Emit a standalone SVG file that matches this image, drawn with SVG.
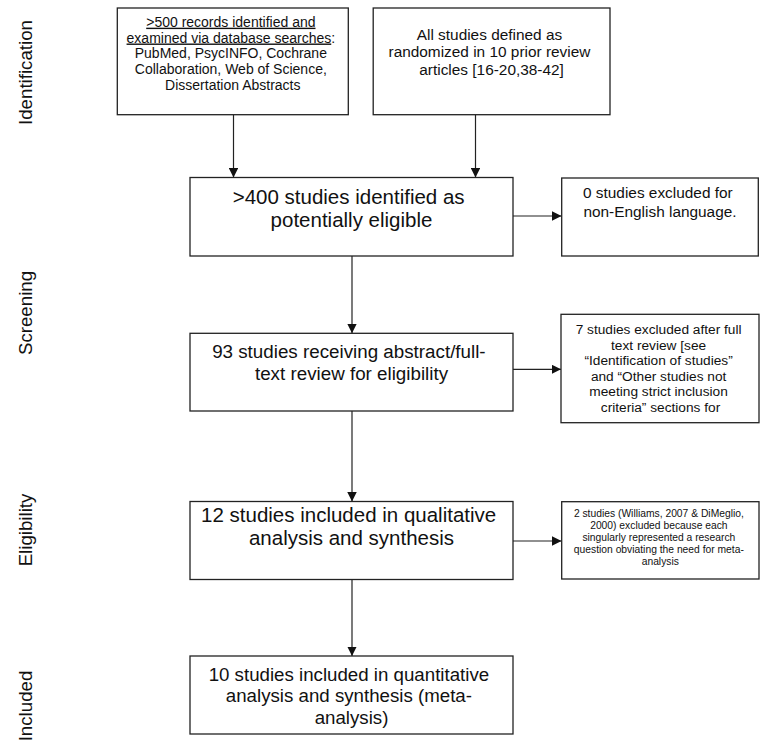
<svg xmlns="http://www.w3.org/2000/svg" width="760" height="747" viewBox="0 0 760 747">
<style>
.box{fill:#fff;stroke:#222;stroke-width:1.3}
.t{font-family:"Liberation Sans",Arial,sans-serif;fill:#111;text-anchor:middle}
.lab{font-family:"Liberation Sans",Arial,sans-serif;fill:#111;font-size:18.7px;text-anchor:middle}
.c{stroke:#222;stroke-width:1.2;fill:none}
.u{text-decoration:underline}
</style>
<defs>
<marker id="ah" viewBox="0 0 10 10" refX="10" refY="5" markerWidth="9.5" markerHeight="9.5" markerUnits="userSpaceOnUse" orient="auto">
<path d="M0,0 L10,5 L0,10 Z" fill="#111"/>
</marker>
</defs>
<rect width="760" height="747" fill="#fff"/>
<g id="phase-labels">
<text class="lab" transform="translate(32,72.5) rotate(-90)">Identification</text>
<text class="lab" transform="translate(32,313) rotate(-90)">Screening</text>
<text class="lab" transform="translate(32,530) rotate(-90)">Eligibility</text>
<text class="lab" transform="translate(32,706) rotate(-90)">Included</text>
</g>
<g id="connectors">
<line class="c" x1="233.5" y1="114.5" x2="233.5" y2="177.5" marker-end="url(#ah)"/>
<line class="c" x1="475.5" y1="114.5" x2="475.5" y2="177.5" marker-end="url(#ah)"/>
<line class="c" x1="513" y1="216" x2="561.5" y2="216" marker-end="url(#ah)"/>
<line class="c" x1="352" y1="256" x2="352" y2="333.3" marker-end="url(#ah)"/>
<line class="c" x1="512" y1="369.3" x2="561" y2="369.3" marker-end="url(#ah)"/>
<line class="c" x1="352" y1="411" x2="352" y2="501.5" marker-end="url(#ah)"/>
<line class="c" x1="513" y1="541" x2="561.5" y2="541" marker-end="url(#ah)"/>
<line class="c" x1="352" y1="579.5" x2="352" y2="656" marker-end="url(#ah)"/>
</g>
<g id="records">
<rect class="box" x="117.3" y="8" width="231" height="106.7"/>
<text class="t" font-size="14">
<tspan x="232.8" y="26.7" class="u">&gt;500 records identified and</tspan>
<tspan x="232.8" y="42.5"><tspan class="u">examined via database searches</tspan>:</tspan>
<tspan x="232.8" y="58.3">PubMed, PsycINFO, Cochrane</tspan>
<tspan x="232.8" y="74.1">Collaboration, Web of Science,</tspan>
<tspan x="232.8" y="89.9">Dissertation Abstracts</tspan>
</text>
</g>
<g id="prior-reviews">
<rect class="box" x="373.2" y="8" width="236.8" height="106.7"/>
<text class="t" font-size="15.4">
<tspan x="491.6" y="39.5">All studies defined as</tspan>
<tspan x="491.6" y="57.4">randomized in 10 prior review</tspan>
<tspan x="491.6" y="75.3">articles [16-20,38-42]</tspan>
</text>
</g>
<g id="potentially-eligible">
<rect class="box" x="190" y="177.5" width="323" height="78.5"/>
<text class="t" font-size="20.5">
<tspan x="351.5" y="203.8">&gt;400 studies identified as</tspan>
<tspan x="351.5" y="227.4">potentially eligible</tspan>
</text>
</g>
<g id="non-english">
<rect class="box" x="561.7" y="178" width="196.6" height="78"/>
<text class="t" font-size="15.4">
<tspan x="660" y="198.3">0 studies excluded for</tspan>
<tspan x="660" y="216.6">non-English language.</tspan>
</text>
</g>
<g id="abstract-review">
<rect class="box" x="190" y="333.3" width="323" height="77.7"/>
<text class="t" font-size="18.8">
<tspan x="351.5" y="358.3">93 studies receiving abstract/full-</tspan>
<tspan x="351.5" y="380.3">text review for eligibility</tspan>
</text>
</g>
<g id="excluded-full-text">
<rect class="box" x="561" y="314.3" width="198" height="108.4"/>
<text class="t" font-size="13.7">
<tspan x="660.5" y="334">7 studies excluded after full</tspan>
<tspan x="660.5" y="349.5">text review [see</tspan>
<tspan x="660.5" y="365">“Identification of studies”</tspan>
<tspan x="660.5" y="380.6">and “Other studies not</tspan>
<tspan x="660.5" y="396.1">meeting strict inclusion</tspan>
<tspan x="660.5" y="411.6">criteria” sections for</tspan>
</text>
</g>
<g id="qualitative">
<rect class="box" x="190" y="501.5" width="323" height="78"/>
<text class="t" font-size="20.5">
<tspan x="351.5" y="522">12 studies included in qualitative</tspan>
<tspan x="351.5" y="545">analysis and synthesis</tspan>
</text>
</g>
<g id="excluded-single">
<rect class="box" x="561.7" y="501.7" width="197.3" height="77.3"/>
<text class="t" font-size="10.3">
<tspan x="660.3" y="517.3">2 studies (Williams, 2007 &amp; DiMeglio,</tspan>
<tspan x="660.3" y="529.2">2000) excluded because each</tspan>
<tspan x="660.3" y="541.1">singularly represented a research</tspan>
<tspan x="660.3" y="553">question obviating the need for meta-</tspan>
<tspan x="660.3" y="564.9">analysis</tspan>
</text>
</g>
<g id="quantitative">
<rect class="box" x="190" y="656" width="323" height="78"/>
<text class="t" font-size="18.7">
<tspan x="351.5" y="680.7">10 studies included in quantitative</tspan>
<tspan x="351.5" y="702.2">analysis and synthesis (meta-</tspan>
<tspan x="351.5" y="723.7">analysis)</tspan>
</text>
</g>
</svg>
